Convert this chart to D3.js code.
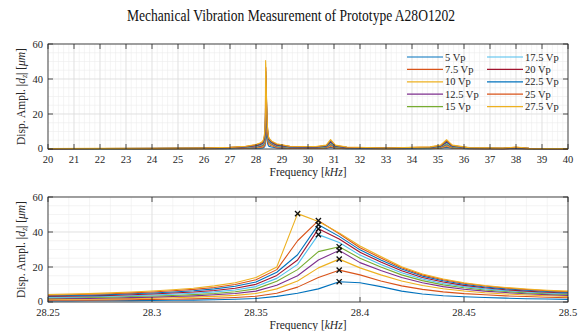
<!DOCTYPE html>
<html><head><meta charset="utf-8">
<script src="https://cdn.jsdelivr.net/npm/d3@7"></script>
<style>
html,body{margin:0;padding:0;background:#fff;}
text{font-family:"Liberation Serif","DejaVu Serif",serif;}
</style></head>
<body><svg id="c" width="583" height="331"></svg>
<script>
// ---------- DATA ----------
const titleText = "Mechanical Vibration Measurement of Prototype A28O1202";
const seriesNames = ["5 Vp","7.5 Vp","10 Vp","12.5 Vp","15 Vp","17.5 Vp","20 Vp","22.5 Vp","25 Vp","27.5 Vp"];
const seriesColors = ["#0072BD","#D95319","#EDB120","#7E2F8E","#77AC30","#4DBEEE","#A2142F","#0072BD","#D95319","#EDB120"];

// frequency in kHz
const freq = [20,22,24,26,27,27.6,28.0,28.15,
  28.25,28.26,28.27,28.28,28.29,28.30,28.31,28.32,28.33,28.34,28.35,
  28.36,28.37,28.38,28.39,28.40,28.41,28.42,28.43,28.44,28.45,28.46,28.47,28.48,28.49,28.50,
  28.6,28.8,29.3,30.3,30.7,30.87,31.05,31.5,33,34.7,35.1,35.33,35.55,36.2,37.5,38.0,38.5,40];

// displacement amplitude in µm
const amp5 = [0.05,0.06,0.07,0.11,0.18,0.29,0.47,0.5,
  0.6,0.6,0.7,0.7,0.8,0.9,1.0,1.1,1.3,1.6,2.0,
  3.2,5.0,7.5,11.6,11.0,8.8,6.2,4.6,3.6,3.0,2.6,2.2,1.9,1.7,1.5,
  1.1,0.54,0.29,0.25,0.4,0.94,0.4,0.2,0.11,0.22,0.4,0.95,0.4,0.14,0.09,0.2,0.07,0.04];
const amp7p5 = [0.08,0.09,0.11,0.16,0.27,0.43,0.7,0.9,
  1.0,1.1,1.1,1.2,1.3,1.5,1.6,1.8,2.1,2.6,3.3,
  5.0,8.5,14.0,18.2,15.5,12.0,9.2,7.2,5.8,4.8,4.1,3.5,3.1,2.7,2.4,
  1.8,0.8,0.43,0.38,0.6,1.4,0.6,0.3,0.16,0.32,0.6,1.4,0.6,0.22,0.14,0.3,0.11,0.05];
const amp10 = [0.11,0.13,0.14,0.22,0.36,0.58,0.94,1.2,
  1.5,1.6,1.7,1.8,2.0,2.2,2.4,2.8,3.2,3.8,4.9,
  7.5,12.0,19.5,24.5,19.5,15.5,12.0,9.4,7.6,6.3,5.3,4.6,4.0,3.6,3.2,
  2.3,1.1,0.58,0.5,0.8,2.0,0.8,0.4,0.22,0.43,0.8,1.9,0.8,0.29,0.18,0.4,0.14,0.07];
const amp12p5 = [0.14,0.16,0.18,0.27,0.45,0.72,1.17,1.5,
  1.9,2.0,2.1,2.3,2.5,2.8,3.1,3.5,4.1,4.9,6.2,
  9.6,15.0,24.0,29.5,22.5,18.0,14.0,11.0,8.8,7.3,6.2,5.4,4.7,4.2,3.8,
  2.8,1.35,0.72,0.63,1.0,2.5,1.0,0.5,0.27,0.54,1.0,2.4,1.0,0.36,0.23,0.5,0.18,0.09];
const amp15 = [0.17,0.19,0.22,0.33,0.55,0.88,1.43,1.9,
  2.3,2.4,2.6,2.8,3.1,3.4,3.7,4.2,4.9,5.9,7.5,
  11.8,18.5,28.8,31.6,25.0,20.0,15.5,12.2,9.8,8.1,6.9,6.0,5.2,4.7,4.3,
  3.1,1.65,0.88,0.77,1.2,3.0,1.2,0.6,0.33,0.66,1.2,2.9,1.2,0.44,0.28,0.6,0.22,0.11];
const amp17p5 = [0.19,0.22,0.26,0.38,0.64,1.02,1.66,2.2,
  2.7,2.8,3.0,3.3,3.6,4.0,4.4,5.0,5.8,6.9,8.8,
  13.5,21.5,38.5,34.0,26.8,21.4,16.7,13.1,10.6,8.8,7.5,6.5,5.7,5.1,4.7,
  3.4,1.9,1.0,0.9,1.4,3.5,1.4,0.7,0.38,0.77,1.4,3.4,1.4,0.51,0.32,0.7,0.26,0.13];
const amp20 = [0.22,0.26,0.29,0.44,0.73,1.17,1.9,2.5,
  3.1,3.3,3.5,3.8,4.1,4.6,5.1,5.7,6.6,7.9,10.1,
  15.2,24.0,41.8,36.0,28.4,22.8,17.8,14.0,11.4,9.5,8.1,7.0,6.2,5.6,5.1,
  3.7,2.2,1.2,1.0,1.6,4.0,1.6,0.8,0.44,0.88,1.6,3.9,1.6,0.58,0.37,0.8,0.29,0.15];
const amp22p5 = [0.25,0.29,0.33,0.49,0.82,1.31,2.13,2.8,
  3.5,3.7,3.9,4.2,4.7,5.1,5.7,6.4,7.5,9.0,11.4,
  17.0,27.0,44.2,37.5,29.8,24.0,18.8,14.8,12.1,10.1,8.6,7.5,6.7,6.0,5.5,
  4.0,2.5,1.3,1.15,1.8,4.5,1.8,0.9,0.49,0.98,1.8,4.3,1.8,0.66,0.41,0.9,0.33,0.16];
const amp25 = [0.27,0.32,0.36,0.55,0.91,1.46,2.37,3.1,
  3.9,4.1,4.4,4.7,5.2,5.7,6.4,7.2,8.3,10.0,12.7,
  18.5,35.0,46.5,39.0,31.0,25.2,19.6,15.5,12.7,10.7,9.1,8.0,7.1,6.4,5.9,
  4.3,2.7,1.5,1.3,2.0,5.0,2.0,1.0,0.55,1.1,2.0,4.8,2.0,0.73,0.46,1.0,0.36,0.18];
const amp27p5 = [0.3,0.35,0.4,0.6,1.0,1.6,2.6,3.4,
  4.3,4.5,4.8,5.2,5.7,6.3,7.0,7.9,9.2,11.0,14.0,
  20.0,50.5,46.0,39.5,32.0,26.0,20.2,16.0,13.1,11.0,9.4,8.3,7.4,6.7,6.2,
  4.5,3.0,1.6,1.4,2.2,5.4,2.2,1.1,0.6,1.2,2.2,5.3,2.2,0.8,0.5,1.1,0.4,0.2];
const seriesValues = [amp5,amp7p5,amp10,amp12p5,amp15,amp17p5,amp20,amp22p5,amp25,amp27p5];

const topXTicks = [20,21,22,23,24,25,26,27,28,29,30,31,32,33,34,35,36,37,38,39,40];
const bottomXTicks = [28.25,28.3,28.35,28.4,28.45,28.5];
const bottomXTickLabels = ["28.25","28.3","28.35","28.4","28.45","28.5"];
const yTicks = [0,20,40,60];

// ---------- DRAW ----------
const svg = d3.select("#c");
const axColor = "#262626";

svg.append("text").attr("x",291).attr("y",21).attr("text-anchor","middle")
  .attr("font-size",16).attr("fill","#111").attr("textLength",328).attr("lengthAdjust","spacingAndGlyphs")
  .text(titleText);

function drawPanel(cfg){
  const x = d3.scaleLinear().domain(cfg.xDomain).range([48,568]);
  const y = d3.scaleLinear().domain([0,60]).range([cfg.bottom,cfg.top]);
  const g = svg.append("g");
  // minor grid
  const minorX = d3.range(cfg.xDomain[0], cfg.xDomain[1]+1e-9, cfg.minorStep);
  g.selectAll(".mgx").data(minorX).join("line")
    .attr("x1",d=>x(d)).attr("x2",d=>x(d)).attr("y1",cfg.top).attr("y2",cfg.bottom)
    .attr("stroke","#ededed").attr("stroke-width",0.6);
  g.selectAll(".mgy").data(d3.range(0,61,5)).join("line")
    .attr("x1",48).attr("x2",568).attr("y1",d=>y(d)).attr("y2",d=>y(d))
    .attr("stroke","#ededed").attr("stroke-width",0.6);
  // major grid
  g.selectAll(".gx").data(cfg.ticks).join("line")
    .attr("x1",d=>x(d)).attr("x2",d=>x(d)).attr("y1",cfg.top).attr("y2",cfg.bottom)
    .attr("stroke","#dcdcdc").attr("stroke-width",0.7);
  g.selectAll(".gy").data(yTicks).join("line")
    .attr("x1",48).attr("x2",568).attr("y1",d=>y(d)).attr("y2",d=>y(d))
    .attr("stroke","#dcdcdc").attr("stroke-width",0.7);

  // lines
  const idx = d3.range(freq.length).filter(i => freq[i] >= cfg.xDomain[0]-1e-9 && freq[i] <= cfg.xDomain[1]+1e-9);
  const line = d3.line().x(i=>x(freq[i]));
  seriesValues.forEach((vals,k)=>{
    g.append("path").datum(idx)
      .attr("d", line.y(i=>y(vals[i])))
      .attr("fill","none").attr("stroke",seriesColors[k]).attr("stroke-width",1.1)
      .attr("stroke-linejoin","round");
  });
  // markers at peaks
  if(cfg.markers){
    seriesValues.forEach((vals)=>{
      const im = idx[d3.maxIndex(idx, i=>vals[i])];
      const px = x(freq[im]), py = y(vals[im]);
      g.append("path").attr("d",`M${px-2.6},${py-2.6}L${px+2.6},${py+2.6}M${px-2.6},${py+2.6}L${px+2.6},${py-2.6}`)
        .attr("stroke","#111").attr("stroke-width",1.3);
    });
  }
  // box
  g.append("rect").attr("x",48).attr("y",cfg.top).attr("width",520).attr("height",cfg.bottom-cfg.top)
    .attr("fill","none").attr("stroke",axColor).attr("stroke-width",0.8);
  // ticks inside (all 4 sides)
  const tl = 5;
  cfg.ticks.forEach(t=>{
    g.append("line").attr("x1",x(t)).attr("x2",x(t)).attr("y1",cfg.bottom).attr("y2",cfg.bottom-tl).attr("stroke",axColor).attr("stroke-width",0.8);
    g.append("line").attr("x1",x(t)).attr("x2",x(t)).attr("y1",cfg.top).attr("y2",cfg.top+tl).attr("stroke",axColor).attr("stroke-width",0.8);
  });
  yTicks.forEach(t=>{
    g.append("line").attr("x1",48).attr("x2",48+tl).attr("y1",y(t)).attr("y2",y(t)).attr("stroke",axColor).attr("stroke-width",0.8);
    g.append("line").attr("x1",568).attr("x2",568-tl).attr("y1",y(t)).attr("y2",y(t)).attr("stroke",axColor).attr("stroke-width",0.8);
  });
  // tick labels
  g.selectAll(".xl").data(cfg.ticks).join("text")
    .attr("x",d=>x(d)).attr("y",cfg.bottom+13.5).attr("text-anchor","middle")
    .attr("font-size",10.5).attr("fill",axColor).text((d,i)=>cfg.tickLabels[i]);
  g.selectAll(".yl").data(yTicks).join("text")
    .attr("x",43).attr("y",d=>y(d)+(d===0?2.5:3.5)).attr("text-anchor","end")
    .attr("font-size",10.5).attr("fill",axColor).text(d=>d);
  // x label
  const xl = g.append("text").attr("x",308).attr("y",cfg.bottom+26.5).attr("text-anchor","middle")
    .attr("font-size",11.5).attr("fill",axColor);
  xl.append("tspan").text("Frequency [");
  xl.append("tspan").attr("font-style","italic").text("kHz");
  xl.append("tspan").text("]");
  // y label
  const cy = (cfg.top+cfg.bottom)/2;
  const yl = g.append("text").attr("transform",`translate(25,${cy}) rotate(-90)`).attr("text-anchor","middle")
    .attr("font-size",11.5).attr("fill",axColor);
  yl.append("tspan").text("Disp. Ampl. |");
  yl.append("tspan").attr("font-style","italic").text("d");
  yl.append("tspan").attr("font-style","italic").attr("font-size",8).attr("dy",2).text("z");
  yl.append("tspan").attr("dy",-2).text("| [");
  yl.append("tspan").attr("font-style","italic").text("μm");
  yl.append("tspan").text("]");
  return {x,y,g};
}

drawPanel({xDomain:[20,40], top:44, bottom:149, ticks:topXTicks,
  tickLabels:topXTicks.map(String), minorStep:0.2, markers:false});
drawPanel({xDomain:[28.25,28.5], top:197, bottom:302, ticks:bottomXTicks,
  tickLabels:bottomXTickLabels, minorStep:0.01, markers:true});

// legend (top panel, two columns, no box)
const leg = svg.append("g");
seriesNames.forEach((name,k)=>{
  const col = Math.floor(k/5), row = k%5;
  const lx = col===0 ? 407 : 487;
  const ly = 57 + row*12.4;
  leg.append("line").attr("x1",lx).attr("x2",lx+36).attr("y1",ly).attr("y2",ly)
    .attr("stroke",seriesColors[k]).attr("stroke-width",1.2);
  leg.append("text").attr("x",lx+38).attr("y",ly+3.5).attr("font-size",10.5)
    .attr("fill",axColor).text(name);
});
</script></body></html>
